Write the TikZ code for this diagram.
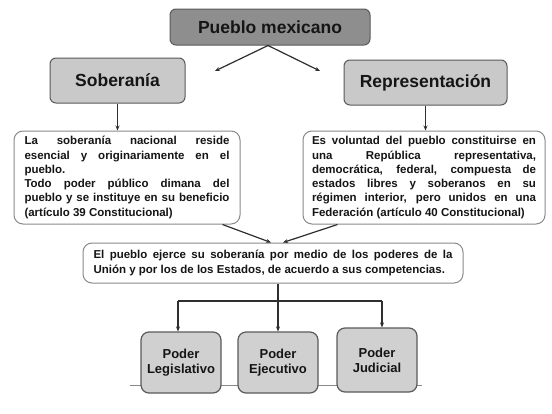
\documentclass[tikz,border=0pt]{standalone}
\usepackage{fontspec}
\setmainfont{Liberation Sans}
\usetikzlibrary{arrows.meta,calc}
\definecolor{darkbox}{HTML}{8E8E8E}
\definecolor{lightbox}{HTML}{C9C9C9}
\definecolor{bottombox}{HTML}{D0D0D0}
\definecolor{edge}{HTML}{5A5A5A}
\definecolor{softedge}{HTML}{8A8A8A}
\definecolor{wire}{HTML}{2E2E2E}
\definecolor{ink}{HTML}{151515}
\tikzset{
  topbox/.style={draw=edge, line width=1pt, rounded corners=6pt, inner sep=0pt,
    text=ink, font={\fontsize{17.5}{20}\selectfont\bfseries}},
  textbox/.style={draw=softedge, fill=white, line width=1pt, rounded corners=9pt, inner sep=0pt,
    text=ink, font={\fontsize{11.5}{14.3}\selectfont\bfseries\parindent=0pt}},
  powbox/.style={draw=edge, fill=bottombox, line width=1.2pt, rounded corners=8pt, inner sep=0pt,
    minimum width=80pt, text=ink, align=center,
    font={\fontsize{13}{14.8}\selectfont\bfseries}},
  arr/.style={draw=wire, line width=1.2pt, -{Stealth[length=5pt,width=4pt]}},
  plain/.style={draw=wire, line width=1.2pt},
}
\begin{document}
\begin{tikzpicture}[x=1pt,y=-1pt]
\useasboundingbox[fill=white] (0,0) rectangle (552,413);

% top level
\node[topbox, fill=darkbox, minimum width=200pt, minimum height=36pt] (pm) at (270,27) {Pueblo mexicano};
\node[topbox, fill=lightbox, minimum width=135pt, minimum height=45pt] (sob) at (117.5,80.5) {Soberanía};
\node[topbox, fill=lightbox, minimum width=163pt, minimum height=45pt] (rep) at (425.5,82.5) {Representación};

\coordinate (pmL) at (215,71);
\coordinate (pmR) at (320,71);
\draw[arr] (pm.south) ++(-2,0) coordinate (pmS) -- (pmL);
\draw[arr] (pmS) -- (pmR);

% text boxes
\node[textbox, minimum width=226pt, minimum height=93pt, text width=205pt, align=justify] (lt) at (127,177.5)
 {La soberanía nacional reside\linebreak
  esencial y originariamente en el\linebreak
  pueblo.\par
  Todo poder público dimana del\linebreak
  pueblo y se instituye en su beneficio\linebreak
  (artículo 39 Constitucional)};

\node[textbox, minimum width=242pt, minimum height=93pt, text width=224pt, align=justify] (rt) at (424,177.5)
 {Es voluntad del pueblo constituirse en\linebreak
  una República representativa,\linebreak
  democrática, federal, compuesta de\linebreak
  estados libres y soberanos en su\linebreak
  régimen interior, pero unidos en una\linebreak
  Federación (artículo 40 Constitucional)};

\draw[arr] (sob.south) -- (sob.south |- lt.north);
\draw[arr] (rep.south) -- (rep.south |- rt.north);

% middle box
\node[textbox, minimum width=380pt, minimum height=40pt, text width=359pt, align=justify] (mid) at (273,263)
 {\parfillskip=0pt El pueblo ejerce su soberanía por medio de los poderes de la\linebreak
  Unión y por los de los Estados, de acuerdo a sus competencias.};

\draw[arr] ($(lt.south east)+(-18,0)$) -- ($(mid.north)+(-2,0)$);
\draw[arr] ($(rt.south west)+(35,0)$) -- ($(mid.north)+(10,0)$);

% base line behind the power boxes
\coordinate (baseL) at (130,385);
\coordinate (baseR) at (422,385);
\draw[draw=softedge, line width=1pt] (baseL) -- (baseR);

% power boxes
\node[powbox, minimum height=61pt] (leg) at (181,362.5) {Poder\\Legislativo};
\node[powbox, minimum height=61pt] (eje) at (278,362.5) {Poder\\Ejecutivo};
\node[powbox, minimum height=64pt] (jud) at (377,360) {Poder\\Judicial};

\coordinate (hy) at (0,301);
\coordinate (hl) at ($(hy -| leg.north)+(-3,0)$);
\coordinate (hr) at ($(hy -| jud.north)+(5,0)$);
\draw[plain] (hl) -- (hr);
\draw[arr] (hl) -- (hl |- leg.north);
\draw[arr] (hr) -- (hr |- jud.north);
\draw[arr] (mid.south -| eje.north) -- (eje.north);
\end{tikzpicture}
\end{document}
